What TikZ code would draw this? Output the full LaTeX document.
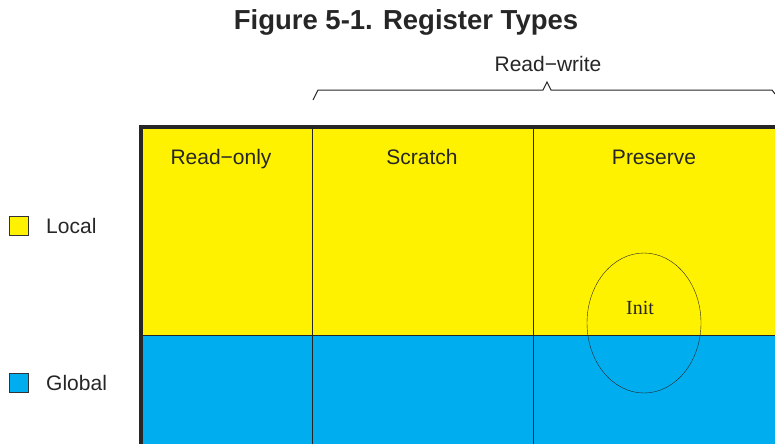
\documentclass[tikz,border=0pt]{standalone}
\usepackage{fontspec}
\setmainfont{Liberation Sans}
\newfontfamily\initfont{Liberation Serif}
\usepackage{xcolor}
\usetikzlibrary{positioning}
\definecolor{regyellow}{HTML}{FFF200}
\definecolor{regblue}{HTML}{00AEEF}
\tikzset{
  label/.style={font=\fontsize{21}{24}\selectfont, text=black!85},
  keybox/.style={draw=black!80, minimum size=19pt, inner sep=0pt},
}

\begin{document}
\begin{tikzpicture}[x=1pt, y=-1pt]
    \useasboundingbox (0,0) rectangle (775,444);

    % Title
    \node[font=\bfseries\fontsize{27.5}{30}\selectfont, text=black!85] (title) at (406,22) {Figure 5-1. Register Types};

    % Register areas
    \fill[regyellow] (140,127) rectangle (775,335);
    \fill[regblue] (140,335) rectangle (775,444);
    \draw[black!85] (140,335) -- (775,335);
    \draw[black!85] (312,127) -- (312,444);
    \draw[black!85] (533,127) -- (533,444);
    \draw[black!85, line width=3.2pt] (141,444) -- (141,127) -- (775,127);

    % Column labels
    \node[label, anchor=base] (ro) at (221,164) {Read\textminus only};
    \node[label, anchor=base] (scr) at (422,164) {Scratch};
    \node[label, anchor=base] (pres) at (654,164) {Preserve};

    % Read-write brace
    \node[label] (rw) at (548,64) {Read\textminus write};
    \draw[black!85, line width=1pt] (313,100) -- (318,90) -- (543,90) -- (547,82)
        -- (551,90) -- (772,90) -- (775,94);

    % Init
    \draw[black!85] (644,323) ellipse (57 and 70);
    \node[font=\initfont\fontsize{20}{22}\selectfont, text=black!85] (init) at (640,308) {Init};

    % Legend
    \node[keybox, fill=regyellow] (lockey) at (19,226) {};
    \node[label, right=14pt of lockey] (loc) {Local};
    \node[keybox, fill=regblue] (glokey) at (19,383) {};
    \node[label, right=14pt of glokey] (glo) {Global};
\end{tikzpicture}
\end{document}
